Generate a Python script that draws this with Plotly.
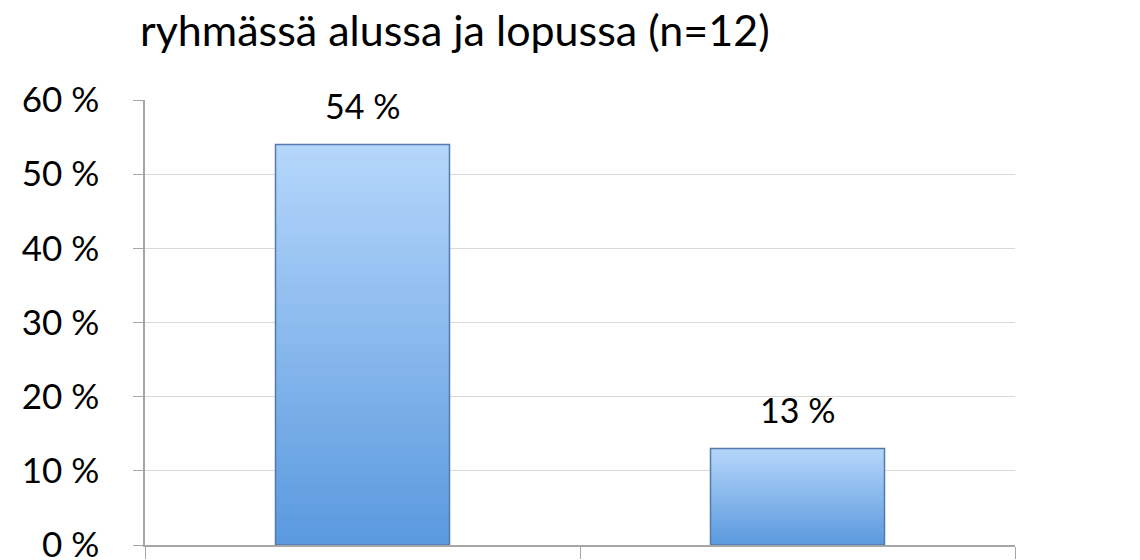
import plotly.graph_objects as go

categories = ["Alussa", "Lopussa"]
values = [54, 13]
labels = ["54 %", "13 %"]
y_ticks = [0, 10, 20, 30, 40, 50, 60]
y_tick_text = ["0 %", "10 %", "20 %", "30 %", "40 %", "50 %", "60 %"]
title_text = "ryhmässä alussa ja lopussa (n=12)"

FONT = "Lato"
TOP = (0xb6, 0xd7, 0xfb)
BOT = (0x5a, 0x9a, 0xdf)
N = 40

fig = go.Figure()
for k in range(N):
    f = (k + 0.5) / N
    c = tuple(int(BOT[i] + (TOP[i] - BOT[i]) * f) for i in range(3))
    fig.add_trace(go.Bar(
        x=categories,
        y=[v * (N - k) / N for v in values],
        base=[v * k / N for v in values],
        width=0.4,
        marker=dict(color="rgb(%d,%d,%d)" % c, line=dict(width=0)),
        hoverinfo="skip", showlegend=False,
    ))
# outline
fig.add_trace(go.Bar(
    x=categories, y=values, width=0.4,
    marker=dict(color="rgba(0,0,0,0)", line=dict(color="#5379ad", width=1.5)),
    showlegend=False, hoverinfo="skip",
))
fig.update_layout(barmode="overlay")

for c, v, t in zip(categories, values, labels):
    fig.add_annotation(x=c, y=v, text=t, showarrow=False, yanchor="bottom",
                       yshift=17, font=dict(family=FONT, size=34, color="#000"))

fig.update_layout(
    width=1140, height=560,
    margin=dict(l=137, r=133, t=92, b=23),
    paper_bgcolor="white", plot_bgcolor="white",
    title=dict(text=title_text, x=132 / 1140, xanchor="left",
               y=1 - 8 / 560, yanchor="top",
               font=dict(family=FONT, size=43, color="#000")),
    font=dict(family=FONT),
)
fig.layout.title.xref = "container"
fig.update_yaxes(range=[0, 60], tickvals=y_ticks, ticktext=y_tick_text,
                 showgrid=True, gridcolor="#d9d9d9", gridwidth=1,
                 showline=True, linecolor="#a6a6a6", linewidth=1.5,
                 ticks="outside", ticklen=10, tickcolor="#a6a6a6",
                 ticklabelstandoff=27,
                 tickfont=dict(family=FONT, size=35, color="#000"),
                 zeroline=False, automargin=False)
fig.update_xaxes(range=[-0.5, 1.5], showticklabels=False,
                 showline=True, linecolor="#a6a6a6", linewidth=1.5,
                 ticks="outside", ticklen=12, tickcolor="#a6a6a6",
                 tickson="boundaries", showgrid=False, automargin=False)

fig.write_html("out.html")
